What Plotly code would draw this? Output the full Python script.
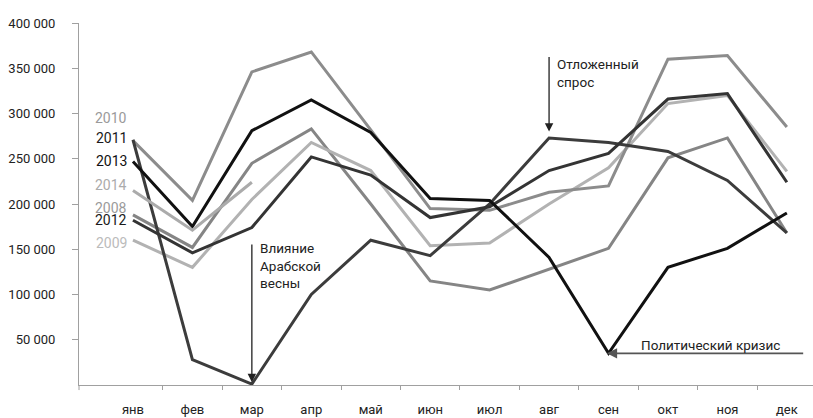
import plotly.graph_objects as go

months = ['янв', 'фев', 'мар', 'апр', 'май', 'июн', 'июл', 'авг', 'сен', 'окт', 'ноя', 'дек']

y2008 = [188000, 152000, 245000, 283000, 200000, 115000, 105000, 128000, 151000, 251000, 273000, 168000]
y2009 = [160000, 130000, 205000, 268000, 237000, 154000, 157000, 200000, 240000, 311000, 320000, 236000]
y2010 = [270000, 204000, 346000, 368000, 282000, 195000, 193000, 213000, 220000, 360000, 364000, 285000]
y2011 = [271000, 28000, 1000, 100000, 160000, 143000, 200000, 273000, 268000, 258000, 226000, 168000]
y2012 = [182000, 146000, 174000, 252000, 232000, 185000, 197000, 237000, 256000, 316000, 322000, 224000]
y2013 = [247000, 175000, 281000, 315000, 279000, 206000, 204000, 141000, 35000, 130000, 151000, 190000]
y2014 = [215000, 171000, 224000]

series = [
    ('2008', y2008, '#858585'),
    ('2009', y2009, '#b2b2b2'),
    ('2010', y2010, '#8c8c8c'),
    ('2011', y2011, '#3c3c3c'),
    ('2012', y2012, '#343434'),
    ('2013', y2013, '#111111'),
    ('2014', y2014, '#ababab'),
]

# label positions (value axis) and colours for the year labels at the left
label_y = {'2010': 294700, '2011': 272600, '2013': 247200, '2014': 220800,
           '2008': 195400, '2012': 182100, '2009': 156700}
label_col = {'2010': '#9a9a9a', '2011': '#1a1a1a', '2013': '#111111', '2014': '#ababab',
             '2008': '#9a9a9a', '2012': '#1a1a1a', '2009': '#bbbbbb'}

FONT = 'Roboto'
fig = go.Figure()
idx = list(range(len(months)))
for name, vals, col in series:
    fig.add_trace(go.Scatter(x=idx[:len(vals)], y=vals, mode='lines', name=name,
                             line=dict(color=col, width=3), showlegend=False,
                             hoverinfo='skip'))

# invisible trace for the boundary-tick axis
fig.add_trace(go.Scatter(x=[0], y=[0], xaxis='x2', mode='markers',
                         marker=dict(opacity=0), showlegend=False, hoverinfo='skip'))

xr = [-0.908, 11.44]
fig.update_layout(
    width=813, height=418,
    margin=dict(l=79, r=0, t=23, b=33),
    paper_bgcolor='white', plot_bgcolor='white',
    separators=', ',
    font=dict(family=FONT, size=14, color='#222222'),
    xaxis=dict(range=xr, tickvals=idx, ticktext=months, ticks='outside', ticklen=12,
               tickcolor='rgba(0,0,0,0)', showline=True, linecolor='#a0a0a0', linewidth=1,
               showgrid=False, zeroline=False, fixedrange=True,
               tickfont=dict(family=FONT, size=13, color='#222222')),
    xaxis2=dict(range=xr, overlaying='x', anchor='y', side='bottom',
                tickvals=[i + 0.5 for i in range(11)], ticks='outside', ticklen=4,
                tickcolor='#a0a0a0', showticklabels=False, showline=False,
                showgrid=False, zeroline=False),
    yaxis=dict(range=[0, 400000], tickvals=[50000 * k for k in range(1, 9)],
               tickformat=',d', ticks='outside', ticklen=6, tickcolor='#a0a0a0',
               ticklabelstandoff=14,
               showline=True, linecolor='#a0a0a0', linewidth=1, showgrid=False,
               zeroline=False, tickfont=dict(family=FONT, size=13, color='#222222')),
)

# y axis line extends slightly below the category axis
fig.add_shape(type='line', xref='paper', yref='paper', x0=0, x1=0, y0=0, y1=-0.014,
              line=dict(color='#a0a0a0', width=1))

for name in ['2010', '2011', '2013', '2014', '2008', '2012', '2009']:
    fig.add_annotation(x=-0.07, y=label_y[name], xref='x', yref='y', text=name,
                       showarrow=False, xanchor='right', yanchor='middle',
                       font=dict(family=FONT, size=14, color=label_col[name]))

# arrows
fig.add_annotation(x=2, y=3000, ax=2, ay=157000, xref='x', yref='y', axref='x', ayref='y',
                   text='', showarrow=True, arrowhead=2, arrowsize=1.3, arrowwidth=1.3,
                   arrowcolor='#222222')
fig.add_annotation(x=7, y=280000, ax=7, ay=364000, xref='x', yref='y', axref='x', ayref='y',
                   text='', showarrow=True, arrowhead=2, arrowsize=1.3, arrowwidth=1.3,
                   arrowcolor='#222222')
fig.add_annotation(x=7.97, y=35000, ax=11.30, ay=35000, xref='x', yref='y', axref='x', ayref='y',
                   text='', showarrow=True, arrowhead=2, arrowsize=1.3, arrowwidth=1.6,
                   arrowcolor='#555555')

# annotation texts
fig.add_annotation(x=2.1, y=162000, xref='x', yref='y', text='Влияние<br>Арабской<br>весны',
                   showarrow=False, xanchor='left', yanchor='top', align='left',
                   font=dict(family=FONT, size=13.5, color='#222222'))
fig.add_annotation(x=7.1, y=366000, xref='x', yref='y', text='Отложенный<br>спрос',
                   showarrow=False, xanchor='left', yanchor='top', align='left',
                   font=dict(family=FONT, size=13.5, color='#222222'))
fig.add_annotation(x=8.52, y=44000, xref='x', yref='y', text='Политический кризис',
                   showarrow=False, xanchor='left', yanchor='middle', align='left',
                   font=dict(family=FONT, size=13.5, color='#222222'))

fig.write_html('out.html', config={'displayModeBar': False},
               post_script="document.body.style.margin='0';")
